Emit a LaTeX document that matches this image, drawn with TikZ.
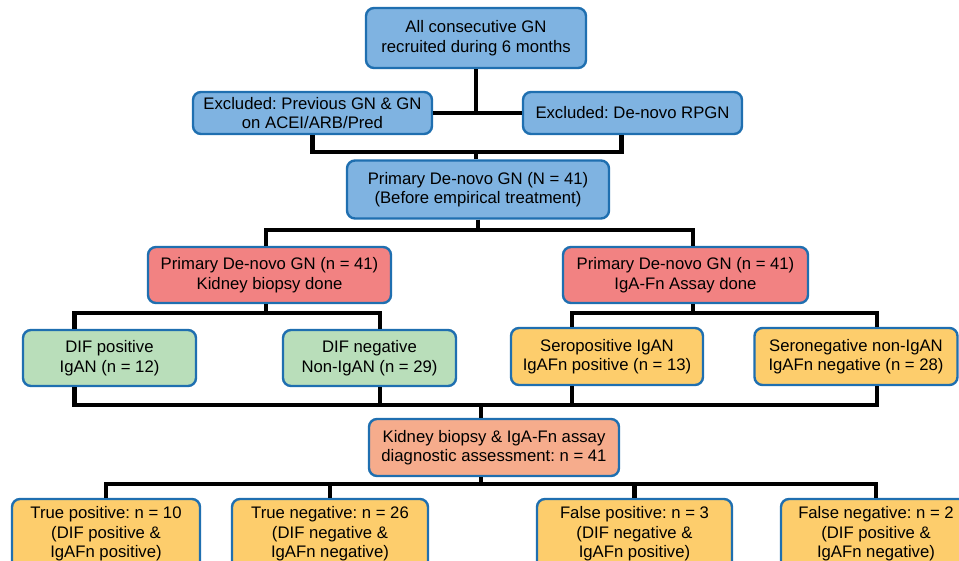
\documentclass[tikz,border=0pt]{standalone}
\usepackage{fontspec}
\setmainfont{Liberation Sans}
\usepackage{xcolor}
\definecolor{edgeblue}{HTML}{1F6FB0}
\definecolor{fillblue}{HTML}{7FB3E1}
\definecolor{fillred}{HTML}{F28282}
\definecolor{fillgreen}{HTML}{B9DEBA}
\definecolor{fillyellow}{HTML}{FDCD6C}
\definecolor{fillsalmon}{HTML}{F6AC8C}
\tikzstyle{box} = [draw=edgeblue, line width=2.4pt, rounded corners=8pt, align=center, inner sep=2pt, font=\fontsize{16.7}{19.5}\selectfont]
\tikzstyle{conn} = [line width=4.7pt, black]
\frenchspacing

\begin{document}
\begin{tikzpicture}[x=1pt, y=-1pt]
    \useasboundingbox (0,0) rectangle (959,560);
    \clip (0,0) rectangle (959,560);

    % screening
    \node[box, fill=fillblue, minimum width=220, minimum height=60] (all) at (476,38) {All consecutive GN\\recruited during 6 months};
    \node[box, fill=fillblue, minimum width=239, minimum height=42] (exl) at (312.5,113) {Excluded: Previous GN \& GN\\on ACEI/ARB/Pred};
    \node[box, fill=fillblue, minimum width=219, minimum height=42] (exr) at (632.5,113) {Excluded: De-novo RPGN};
    \node[box, fill=fillblue, minimum width=262, minimum height=58] (prim) at (478,189.5) {Primary De-novo GN (N = 41)\\(Before empirical treatment)};

    % two arms
    \node[box, fill=fillred, minimum width=243, minimum height=56] (biopsy) at (269.5,275) {Primary De-novo GN (n = 41)\\Kidney biopsy done};
    \node[box, fill=fillred, minimum width=245, minimum height=56] (assay) at (685.5,275) {Primary De-novo GN (n = 41)\\IgA-Fn Assay done};

    \node[box, fill=fillgreen, minimum width=173, minimum height=56] (difpos) at (109.5,358) {DIF positive\\IgAN (n = 12)};
    \node[box, fill=fillgreen, minimum width=173, minimum height=56] (difneg) at (369.5,358) {DIF negative\\Non-IgAN (n = 29)};
    \node[box, fill=fillyellow, minimum width=192, minimum height=57] (seropos) at (607,356.5) {Seropositive IgAN\\IgAFn positive (n = 13)};
    \node[box, fill=fillyellow, minimum width=203, minimum height=57] (seroneg) at (856,356.5) {Seronegative non-IgAN\\IgAFn negative (n = 28)};

    % assessment
    \node[box, fill=fillsalmon, minimum width=250, minimum height=57] (diag) at (494,447.5) {Kidney biopsy \& IgA-Fn assay\\diagnostic assessment: n = 41};

    \node[box, fill=fillyellow, minimum width=188, minimum height=70] (tp) at (106,534) {True positive: n = 10\\(DIF positive \&\\IgAFn positive)};
    \node[box, fill=fillyellow, minimum width=196, minimum height=70] (tn) at (330,534) {True negative: n = 26\\(DIF negative \&\\IgAFn negative)};
    \node[box, fill=fillyellow, minimum width=195, minimum height=70] (fp) at (634.5,534) {False positive: n = 3\\(DIF negative \&\\IgAFn positive)};
    \node[box, fill=fillyellow, minimum width=190, minimum height=70] (fn) at (876,534) {False negative: n = 2\\(DIF positive \&\\IgAFn negative)};

    % connectors
    \coordinate (j1) at (476,152);
    \coordinate (j2) at (478,230);
    \coordinate (j3) at (266,313);
    \coordinate (j4) at (693,313);
    \coordinate (j5) at (481,405);
    \coordinate (j6) at (481,484);

    \draw[conn] (all.south) -- (all.south |- exl.east);
    \draw[conn] (exl.east) -- (exr.west);
    \draw[conn] (exl.south) |- (j1) -| ([xshift=-11pt]exr.south);
    \draw[conn] (j1) -- (j1 |- prim.north);

    \draw[conn] (prim.south) -- (j2);
    \draw[conn] ([xshift=-3.5pt]biopsy.north) |- (j2) -| ([xshift=7.5pt]assay.north);

    \draw[conn] ([xshift=-3.5pt]biopsy.south) -- (j3);
    \draw[conn] ([xshift=-35pt]difpos.north) |- (j3) -| ([xshift=10.5pt]difneg.north);
    \draw[conn] ([xshift=7.5pt]assay.south) -- (j4);
    \draw[conn] ([xshift=-35pt]seropos.north) |- (j4) -| ([xshift=21pt]seroneg.north);

    \draw[conn] ([xshift=-35pt]difpos.south) |- (j5) -| ([xshift=21pt]seroneg.south);
    \draw[conn] ([xshift=10.5pt]difneg.south) -- ([xshift=10.5pt]difneg.south |- j5);
    \draw[conn] ([xshift=-35pt]seropos.south) -- ([xshift=-35pt]seropos.south |- j5);
    \draw[conn] (j5) -- (j5 |- diag.north);

    \draw[conn] (j6 |- diag.south) -- (j6);
    \draw[conn] (tp.north) |- (j6) -| (fn.north);
    \draw[conn] (tn.north) -- (tn.north |- j6);
    \draw[conn] (fp.north) -- (fp.north |- j6);
\end{tikzpicture}
\end{document}
